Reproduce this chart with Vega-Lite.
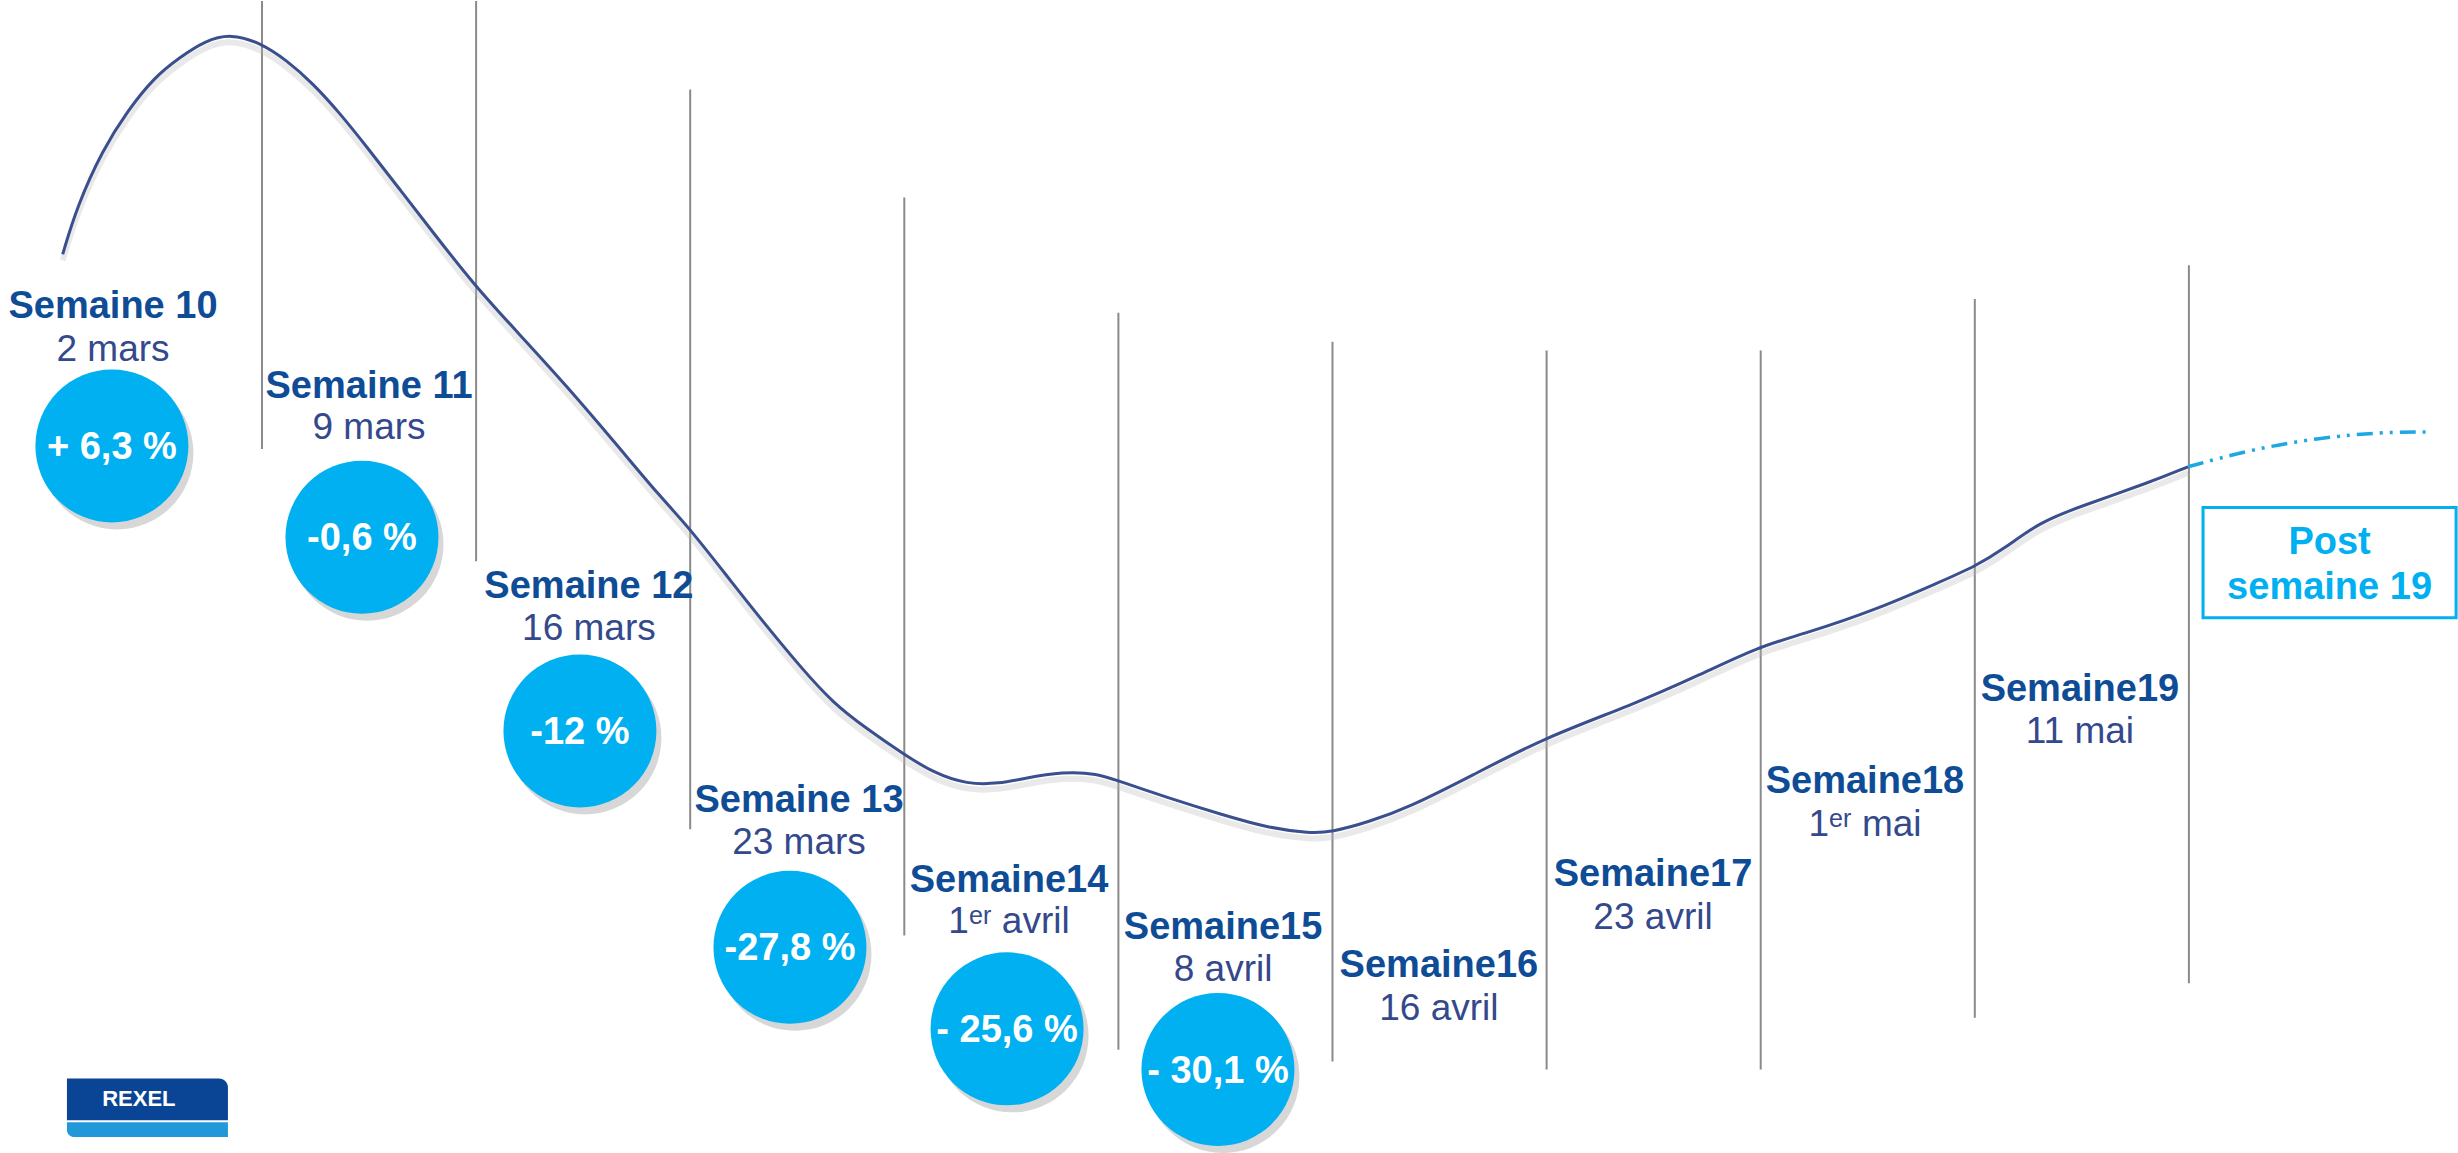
{
  "$schema": "https://vega.github.io/schema/vega-lite/v6.json",
  "autosize": {"type": "fit", "contains": "padding"},
  "width": 2458,
  "height": 1153,
  "padding": 0,
  "background": "white",
  "config": {"view": {"stroke": null}},
  "datasets": {
    "limites": [
      {"semaine": 10.5, "haut": 100, "bas": 60.88},
      {"semaine": 11.5, "haut": 100, "bas": 51.08},
      {"semaine": 12.5, "haut": 92.28, "bas": 27.67},
      {"semaine": 13.5, "haut": 82.83, "bas": 18.39},
      {"semaine": 14.5, "haut": 72.77, "bas": 8.41},
      {"semaine": 15.5, "haut": 70.25, "bas": 7.37},
      {"semaine": 16.5, "haut": 69.47, "bas": 6.68},
      {"semaine": 17.5, "haut": 69.47, "bas": 6.68},
      {"semaine": 18.5, "haut": 73.98, "bas": 11.19},
      {"semaine": 19.5, "haut": 76.93, "bas": 14.22}
    ],
    "courbe": [
      {"semaine": 9.569, "niveau": 77.88},
      {"semaine": 9.636, "niveau": 82.05},
      {"semaine": 9.755, "niveau": 86.99},
      {"semaine": 9.874, "niveau": 90.46},
      {"semaine": 9.996, "niveau": 93.32},
      {"semaine": 10.115, "niveau": 95.06},
      {"semaine": 10.234, "niveau": 96.53},
      {"semaine": 10.355, "niveau": 97.14},
      {"semaine": 10.491, "niveau": 96.36},
      {"semaine": 10.617, "niveau": 94.8},
      {"semaine": 10.738, "niveau": 92.8},
      {"semaine": 10.864, "niveau": 90.2},
      {"semaine": 10.99, "niveau": 87.25},
      {"semaine": 11.145, "niveau": 83.52},
      {"semaine": 11.299, "niveau": 79.79},
      {"semaine": 11.495, "niveau": 75.11},
      {"semaine": 11.691, "niveau": 71.12},
      {"semaine": 11.925, "niveau": 66.35},
      {"semaine": 12.158, "niveau": 61.23},
      {"semaine": 12.359, "niveau": 56.72},
      {"semaine": 12.494, "niveau": 54.03},
      {"semaine": 12.7, "niveau": 49.09},
      {"semaine": 12.859, "niveau": 45.36},
      {"semaine": 13.013, "niveau": 41.89},
      {"semaine": 13.167, "niveau": 38.68},
      {"semaine": 13.326, "niveau": 36.43},
      {"semaine": 13.494, "niveau": 34.26},
      {"semaine": 13.634, "niveau": 32.61},
      {"semaine": 13.793, "niveau": 31.57},
      {"semaine": 13.947, "niveau": 31.66},
      {"semaine": 14.054, "niveau": 32.09},
      {"semaine": 14.241, "niveau": 32.7},
      {"semaine": 14.405, "niveau": 32.52},
      {"semaine": 14.493, "niveau": 31.92},
      {"semaine": 14.727, "niveau": 30.44},
      {"semaine": 14.993, "niveau": 28.88},
      {"semaine": 15.208, "niveau": 27.75},
      {"semaine": 15.395, "niveau": 27.32},
      {"semaine": 15.493, "niveau": 27.41},
      {"semaine": 15.666, "niveau": 28.27},
      {"semaine": 15.867, "niveau": 29.66},
      {"semaine": 16.142, "niveau": 32.26},
      {"semaine": 16.488, "niveau": 35.65},
      {"semaine": 16.899, "niveau": 38.51},
      {"semaine": 17.212, "niveau": 41.11},
      {"semaine": 17.492, "niveau": 43.62},
      {"semaine": 17.693, "niveau": 44.67},
      {"semaine": 18.039, "niveau": 46.83},
      {"semaine": 18.347, "niveau": 49.35},
      {"semaine": 18.496, "niveau": 50.56},
      {"semaine": 18.641, "niveau": 52.21},
      {"semaine": 18.8, "niveau": 54.47},
      {"semaine": 19.005, "niveau": 55.94},
      {"semaine": 19.314, "niveau": 57.94},
      {"semaine": 19.496, "niveau": 59.32}
    ],
    "prevision": [
      {"semaine": 19.496, "niveau": 59.32},
      {"semaine": 19.785, "niveau": 60.8},
      {"semaine": 20.098, "niveau": 61.84},
      {"semaine": 20.407, "niveau": 62.36},
      {"semaine": 20.626, "niveau": 62.36}
    ],
    "semaines": [
      {"semaine": 9.804, "titre": "Semaine 10", "date": "2 mars", "niveau_titre": 72.33, "niveau_date": 68.52},
      {"semaine": 11.0, "titre": "Semaine 11", "date": "9 mars", "niveau_titre": 65.31, "niveau_date": 61.75},
      {"semaine": 12.027, "titre": "Semaine 12", "date": "16 mars", "niveau_titre": 47.88, "niveau_date": 44.23},
      {"semaine": 13.008, "titre": "Semaine 13", "date": "23 mars", "niveau_titre": 29.14, "niveau_date": 25.5},
      {"semaine": 13.989, "titre": "Semaine14", "date": "1ᵉʳ avril", "niveau_titre": 22.2, "niveau_date": 18.56},
      {"semaine": 14.989, "titre": "Semaine15", "date": "8 avril", "niveau_titre": 18.04, "niveau_date": 14.4},
      {"semaine": 15.997, "titre": "Semaine16", "date": "16 avril", "niveau_titre": 14.74, "niveau_date": 11.01},
      {"semaine": 16.997, "titre": "Semaine17", "date": "23 avril", "niveau_titre": 22.72, "niveau_date": 18.99},
      {"semaine": 17.987, "titre": "Semaine18", "date": "1ᵉʳ mai", "niveau_titre": 30.79, "niveau_date": 27.06},
      {"semaine": 18.991, "titre": "Semaine19", "date": "11 mai", "niveau_titre": 38.86, "niveau_date": 35.21}
    ],
    "bulles": [
      {"semaine": 9.799, "niveau": 61.14, "variation": "+ 6,3 %"},
      {"semaine": 10.967, "niveau": 53.17, "variation": "-0,6 %"},
      {"semaine": 11.985, "niveau": 36.25, "variation": "-12 %"},
      {"semaine": 12.966, "niveau": 17.35, "variation": "-27,8 %"},
      {"semaine": 13.98, "niveau": 10.23, "variation": "- 25,6 %"},
      {"semaine": 14.965, "niveau": 6.68, "variation": "- 30,1 %"}
    ],
    "encadre": [
      {"debut": 19.566, "fin": 20.748, "haut": 55.77, "bas": 46.14}
    ],
    "encadre_texte": [
      {"semaine": 20.157, "niveau": 51.69, "texte": "Post"},
      {"semaine": 20.157, "niveau": 47.79, "texte": "semaine 19"}
    ],
    "logo": [
      {"debut": 9.589, "fin": 10.341, "haut": 5.9, "bas": 2.25, "partie": "haut"},
      {"debut": 9.589, "fin": 10.341, "haut": 2.08, "bas": 0.78, "partie": "bas"}
    ],
    "logo_texte": [
      {"semaine": 9.925, "niveau": 4.08, "texte": "REXEL"}
    ]
  },
  "layer": [
    {
      "data": {"name": "limites"},
      "mark": {"type": "rule", "color": "#8a8a8a", "strokeWidth": 2},
      "encoding": {
        "x": {"field": "semaine", "type": "quantitative", "axis": null, "scale": {"domain": [9.2763, 20.7569], "nice": false, "zero": false}},
        "y": {"field": "haut", "type": "quantitative", "axis": null, "scale": {"domain": [0, 100], "nice": false, "zero": false}},
        "y2": {"field": "bas"}
      }
    },
    {
      "data": {"name": "courbe"},
      "mark": {"type": "line", "interpolate": "basis", "color": "#b5b5b5", "strokeWidth": 6, "opacity": 0.3, "yOffset": 6},
      "encoding": {
        "x": {"field": "semaine", "type": "quantitative", "axis": null, "scale": {"domain": [9.2763, 20.7569], "nice": false, "zero": false}},
        "y": {"field": "niveau", "type": "quantitative", "axis": null, "scale": {"domain": [0, 100], "nice": false, "zero": false}}
      }
    },
    {
      "data": {"name": "courbe"},
      "mark": {"type": "line", "interpolate": "basis", "color": "#3a4f8e", "strokeWidth": 3},
      "encoding": {
        "x": {"field": "semaine", "type": "quantitative", "axis": null, "scale": {"domain": [9.2763, 20.7569], "nice": false, "zero": false}},
        "y": {"field": "niveau", "type": "quantitative", "axis": null, "scale": {"domain": [0, 100], "nice": false, "zero": false}}
      }
    },
    {
      "data": {"name": "prevision"},
      "mark": {"type": "line", "interpolate": "basis", "color": "#1ea8e3", "strokeWidth": 3.5, "strokeDash": [16, 7, 3, 7, 3, 7]},
      "encoding": {
        "x": {"field": "semaine", "type": "quantitative", "axis": null, "scale": {"domain": [9.2763, 20.7569], "nice": false, "zero": false}},
        "y": {"field": "niveau", "type": "quantitative", "axis": null, "scale": {"domain": [0, 100], "nice": false, "zero": false}}
      }
    },
    {
      "data": {"name": "bulles"},
      "mark": {"type": "point", "shape": "circle", "filled": true, "size": 23409, "color": "#7a7a7a", "opacity": 0.3, "xOffset": 5, "yOffset": 7, "strokeWidth": 0},
      "encoding": {
        "x": {"field": "semaine", "type": "quantitative", "axis": null, "scale": {"domain": [9.2763, 20.7569], "nice": false, "zero": false}},
        "y": {"field": "niveau", "type": "quantitative", "axis": null, "scale": {"domain": [0, 100], "nice": false, "zero": false}}
      }
    },
    {
      "data": {"name": "bulles"},
      "mark": {"type": "point", "shape": "circle", "filled": true, "size": 23409, "color": "#00b0f0", "opacity": 1, "strokeWidth": 0},
      "encoding": {
        "x": {"field": "semaine", "type": "quantitative", "axis": null, "scale": {"domain": [9.2763, 20.7569], "nice": false, "zero": false}},
        "y": {"field": "niveau", "type": "quantitative", "axis": null, "scale": {"domain": [0, 100], "nice": false, "zero": false}}
      }
    },
    {
      "data": {"name": "bulles"},
      "mark": {"type": "text", "font": "Liberation Sans", "fontWeight": "bold", "fontSize": 38, "color": "white", "align": "center", "baseline": "middle", "dy": 2},
      "encoding": {
        "x": {"field": "semaine", "type": "quantitative", "axis": null, "scale": {"domain": [9.2763, 20.7569], "nice": false, "zero": false}},
        "y": {"field": "niveau", "type": "quantitative", "axis": null, "scale": {"domain": [0, 100], "nice": false, "zero": false}},
        "text": {"field": "variation"}
      }
    },
    {
      "data": {"name": "semaines"},
      "mark": {"type": "text", "font": "Liberation Sans", "fontWeight": "bold", "fontSize": 38, "color": "#0f4c96", "align": "center", "baseline": "alphabetic"},
      "encoding": {
        "x": {"field": "semaine", "type": "quantitative", "axis": null, "scale": {"domain": [9.2763, 20.7569], "nice": false, "zero": false}},
        "y": {"field": "niveau_titre", "type": "quantitative", "axis": null, "scale": {"domain": [0, 100], "nice": false, "zero": false}},
        "text": {"field": "titre"}
      }
    },
    {
      "data": {"name": "semaines"},
      "mark": {"type": "text", "font": "Liberation Sans", "fontWeight": "normal", "fontSize": 37, "color": "#34498c", "align": "center", "baseline": "alphabetic"},
      "encoding": {
        "x": {"field": "semaine", "type": "quantitative", "axis": null, "scale": {"domain": [9.2763, 20.7569], "nice": false, "zero": false}},
        "y": {"field": "niveau_date", "type": "quantitative", "axis": null, "scale": {"domain": [0, 100], "nice": false, "zero": false}},
        "text": {"field": "date"}
      }
    },
    {
      "data": {"name": "encadre"},
      "mark": {"type": "rect", "fill": "white", "stroke": "#00b0f0", "strokeWidth": 3},
      "encoding": {
        "x": {"field": "debut", "type": "quantitative", "axis": null, "scale": {"domain": [9.2763, 20.7569], "nice": false, "zero": false}},
        "x2": {"field": "fin"},
        "y": {"field": "haut", "type": "quantitative", "axis": null, "scale": {"domain": [0, 100], "nice": false, "zero": false}},
        "y2": {"field": "bas"}
      }
    },
    {
      "data": {"name": "encadre_texte"},
      "mark": {"type": "text", "font": "Liberation Sans", "fontWeight": "bold", "fontSize": 38, "color": "#00b0f0", "align": "center", "baseline": "alphabetic"},
      "encoding": {
        "x": {"field": "semaine", "type": "quantitative", "axis": null, "scale": {"domain": [9.2763, 20.7569], "nice": false, "zero": false}},
        "y": {"field": "niveau", "type": "quantitative", "axis": null, "scale": {"domain": [0, 100], "nice": false, "zero": false}},
        "text": {"field": "texte"}
      }
    },
    {
      "data": {"name": "logo"},
      "transform": [{"filter": "datum.partie === 'haut'"}],
      "mark": {"type": "rect", "color": "#0a4595", "cornerRadiusTopRight": 9},
      "encoding": {
        "x": {"field": "debut", "type": "quantitative", "axis": null, "scale": {"domain": [9.2763, 20.7569], "nice": false, "zero": false}},
        "x2": {"field": "fin"},
        "y": {"field": "haut", "type": "quantitative", "axis": null, "scale": {"domain": [0, 100], "nice": false, "zero": false}},
        "y2": {"field": "bas"}
      }
    },
    {
      "data": {"name": "logo"},
      "transform": [{"filter": "datum.partie === 'bas'"}],
      "mark": {"type": "rect", "color": "#2398d8", "cornerRadiusBottomLeft": 9},
      "encoding": {
        "x": {"field": "debut", "type": "quantitative", "axis": null, "scale": {"domain": [9.2763, 20.7569], "nice": false, "zero": false}},
        "x2": {"field": "fin"},
        "y": {"field": "haut", "type": "quantitative", "axis": null, "scale": {"domain": [0, 100], "nice": false, "zero": false}},
        "y2": {"field": "bas"}
      }
    },
    {
      "data": {"name": "logo_texte"},
      "mark": {"type": "text", "font": "Liberation Sans", "fontWeight": "bold", "fontSize": 22, "color": "white", "align": "center", "baseline": "middle"},
      "encoding": {
        "x": {"field": "semaine", "type": "quantitative", "axis": null, "scale": {"domain": [9.2763, 20.7569], "nice": false, "zero": false}},
        "y": {"field": "niveau", "type": "quantitative", "axis": null, "scale": {"domain": [0, 100], "nice": false, "zero": false}},
        "text": {"field": "texte"}
      }
    }
  ]
}
